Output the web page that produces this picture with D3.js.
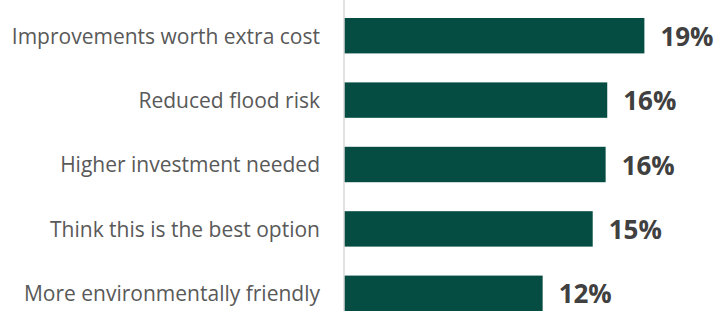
<!DOCTYPE html>
<html>
<head>
<meta charset="utf-8">
<script src="https://cdn.jsdelivr.net/npm/d3@7"></script>
<style>
  body { margin: 0; background: #fff; }
  svg { display: block; }
</style>
</head>
<body>
<div id="chart"></div>
<script>
// reasons, top to bottom
var categories = [
    "Improvements worth extra cost",
    "Reduced flood risk",
    "Higher investment needed",
    "Think this is the best option",
    "More environmentally friendly"
];
// share of respondents (%)
var values = [18.6, 16.3, 16.2, 15.4, 12.3];

var width = 717, height = 311;

var svg = d3.select("#chart")
    .append("svg")
    .attr("width", width)
    .attr("height", height);

var x = d3.scaleLinear()
    .domain([0, 20])
    .range([344, 344 + 20 * 16.15]);

var y = d3.scaleBand()
    .domain(categories)
    .range([3.5, 325.5])
    .paddingInner(0.45)
    .paddingOuter(0.225);

var data = categories.map(function (c, i) {
    return { name: c, value: values[i] };
});

// bars
svg.selectAll(".bar")
    .data(data)
    .enter().append("rect")
    .attr("class", "bar")
    .attr("x", x(0))
    .attr("y", function (d) { return y(d.name); })
    .attr("width", function (d) { return x(d.value) - x(0); })
    .attr("height", y.bandwidth())
    .style("fill", "#054d42");

// category axis, just the line and the labels
var axis = svg.append("g")
    .attr("transform", "translate(" + x(0) + ",0)")
    .call(d3.axisLeft(y).tickSize(0).tickPadding(24));
axis.select(".domain").remove();
axis.append("line")
    .attr("x1", 0).attr("x2", 0)
    .attr("y1", 0).attr("y2", height)
    .style("stroke", "#d9d9d9")
    .style("stroke-width", 1.5);
axis.selectAll("text")
    .attr("dy", "0.38em")
    .style("font-family", "'Open Sans', sans-serif")
    .style("font-size", "21px")
    .style("fill", "#595959");

// value labels
svg.selectAll(".val")
    .data(data)
    .enter().append("text")
    .attr("class", "val")
    .attr("x", function (d) { return x(d.value) + 16; })
    .attr("y", function (d) { return y(d.name) + y.bandwidth() / 2 + 1; })
    .attr("dy", "0.35em")
    .style("font-family", "'Open Sans', sans-serif")
    .style("font-weight", "bold")
    .style("font-size", "26px")
    .style("fill", "#404040")
    .text(function (d) { return Math.round(d.value) + "%"; });
</script>
</body>
</html>
